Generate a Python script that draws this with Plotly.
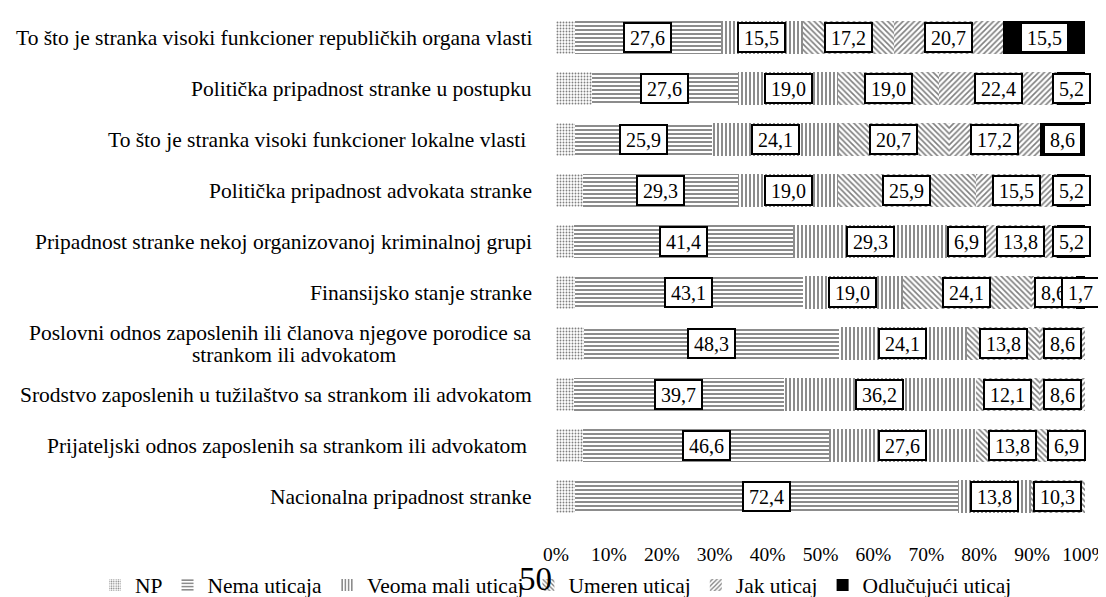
import plotly.graph_objects as go

categories = [
    "To što je stranka visoki funkcioner republičkih organa vlasti",
    "Politička pripadnost stranke u postupku",
    "To što je stranka visoki funkcioner lokalne vlasti\u00a0",
    "Politička pripadnost advokata stranke",
    "Pripadnost stranke nekoj organizovanoj kriminalnoj grupi",
    "Finansijsko stanje stranke",
    "Poslovni odnos zaposlenih ili članova njegove porodice sa<br>strankom ili advokatom",
    "Srodstvo zaposlenih u tužilaštvo sa strankom ili advokatom",
    "Prijateljski odnos zaposlenih sa strankom ili advokatom\u00a0",
    "Nacionalna pripadnost stranke",
]

series_names = ["NP", "Nema uticaja", "Veoma mali uticaj", "Umeren uticaj", "Jak uticaj", "Odlučujući uticaj"]

np_vals = [3.5, 6.8, 3.5, 5.1, 3.4, 3.5, 5.2, 3.4, 5.1, 3.5]
nema_vals = [27.6, 27.6, 25.9, 29.3, 41.4, 43.1, 48.3, 39.7, 46.6, 72.4]
veoma_mali_vals = [15.5, 19.0, 24.1, 19.0, 29.3, 19.0, 24.1, 36.2, 27.6, 13.8]
umeren_vals = [17.2, 19.0, 20.7, 25.9, 6.9, 24.1, 13.8, 12.1, 13.8, 10.3]
jak_vals = [20.7, 22.4, 17.2, 15.5, 13.8, 8.6, 8.6, 8.6, 6.9, 0.0]
odlucujuci_vals = [15.5, 5.2, 8.6, 5.2, 5.2, 1.7, 0.0, 0.0, 0.0, 0.0]

tick_vals = [0, 10, 20, 30, 40, 50, 60, 70, 80, 90, 100]
tick_text = ["0%", "10%", "20%", "30%", "40%", "50%", "60%", "70%", "80%", "90%", "100%"]

page_number = "50"

all_series = [np_vals, nema_vals, veoma_mali_vals, umeren_vals, jak_vals, odlucujuci_vals]
patterns = [".", "-", "|", "\\", "/", None]
labelled = [False, True, True, True, True, True]

SERIF = "Liberation Serif, Times New Roman, serif"

# plot-area geometry (pixels)
W, H = 1106, 597
L, R, T, B = 548, 29, 4, 83
PW, PH = W - L - R, H - T - B

fig = go.Figure()
for name, vals, pat in zip(series_names, all_series, patterns):
    if pat is None:
        marker = dict(color="black", line=dict(width=0))
    else:
        if pat == ".":
            size, sol = 3, 0.3
        elif pat in ("-", "|"):
            size, sol = 4, 0.45
        else:
            size, sol = 4, 0.4
        marker = dict(color="white", line=dict(width=0),
                      pattern=dict(shape=pat, fgcolor="black", bgcolor="white",
                                   size=size, solidity=sol, fillmode="overlay"))
    fig.add_trace(go.Bar(
        y=categories, x=vals, name=name, orientation="h",
        marker=marker, width=0.65,
    ))

annotations = []
# category labels (centre-aligned lines, right edge next to the bars)
for cat in categories:
    lines = cat.split("<br>")
    if len(lines) == 1:
        annotations.append(dict(
            x=0, xref="paper", xanchor="right", xshift=-22,
            y=cat, yref="y", text=cat, showarrow=False, align="center",
            font=dict(family=SERIF, size=21.5, color="black"),
        ))
    else:
        annotations.append(dict(
            x=0, xref="paper", xanchor="right", xshift=-22,
            y=cat, yref="y", text=lines[0], showarrow=False, yshift=11,
            font=dict(family=SERIF, size=21.5, color="black"),
        ))
        annotations.append(dict(
            x=0, xref="paper", xanchor="center", xshift=-262,
            y=cat, yref="y", text=lines[1], showarrow=False, yshift=-11,
            font=dict(family=SERIF, size=21.5, color="black"),
        ))

# value labels in white boxes
for r, cat in enumerate(categories):
    start = 0.0
    for s, vals in enumerate(all_series):
        v = vals[r]
        if labelled[s] and v > 0:
            txt = f"{v:.1f}".replace(".", ",")
            annotations.append(dict(
                x=start + v / 2, y=cat, xref="x", yref="y",
                text=txt, showarrow=False,
                font=dict(family=SERIF, size=20, color="black"),
                bgcolor="white", bordercolor="black", borderwidth=2, borderpad=1,
                width=43 if len(txt) >= 4 else 33, height=25,
            ))
        start += v

annotations.append(dict(
    x=(527 - L) / PW, y=(H - B - 571) / PH, xref="paper", yref="paper",
    text=page_number, showarrow=False, xanchor="center", yanchor="middle",
    font=dict(family=SERIF, size=33, color="black"),
))

fig.update_layout(
    barmode="stack",
    width=W, height=H,
    margin=dict(l=L, r=R, t=T, b=B, autoexpand=False),
    paper_bgcolor="white", plot_bgcolor="white",
    showlegend=True,
    legend=dict(orientation="h", xref="paper", yref="paper",
                x=(87 - L) / PW, y=(H - B - 577) / PH,
                xanchor="left", yanchor="middle",
                font=dict(family=SERIF, size=21.5, color="black"),
                traceorder="normal", itemwidth=30),
    xaxis=dict(range=[0, 100], tickvals=tick_vals, ticktext=tick_text,
               showgrid=False, zeroline=False, showline=False, ticks="",
               tickfont=dict(family=SERIF, size=19.5, color="black"),
               ticklabelstandoff=18, fixedrange=True),
    yaxis=dict(categoryorder="array", categoryarray=categories,
               autorange="reversed", showticklabels=False,
               showgrid=False, zeroline=False, showline=False, ticks="",
               fixedrange=True),
    annotations=annotations,
)

fig.write_html("out.html")
